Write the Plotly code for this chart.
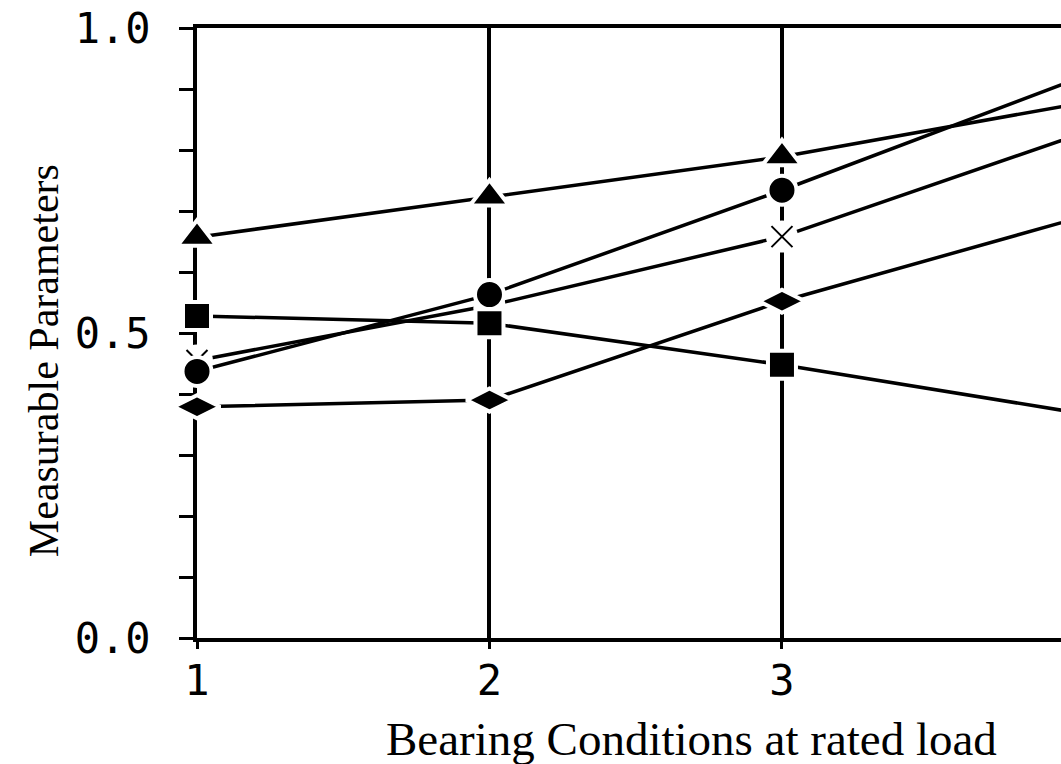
import plotly.graph_objects as go

# Bearing conditions (x) and the five measured parameters (y, normalised)
conditions = [1, 2, 3, 4]
triangle_series = [0.657, 0.723, 0.789, 0.875]
square_series = [0.528, 0.516, 0.448, 0.370]
circle_series = [0.437, 0.563, 0.734, 0.915]
cross_series = [0.455, 0.545, 0.658, 0.823]
diamond_series = [0.379, 0.390, 0.552, 0.687]

y_tick_vals = [0.0, 0.5, 1.0]
y_tick_text = ["0.0", "0.5", "1.0"]
x_tick_vals = [1, 2, 3, 4]
x_tick_text = ["1", "2", "3", "4"]

x_title = "Bearing Conditions at rated load"
y_title = "Measurable Parameters"

tick_font = dict(family="DejaVu Sans Mono", size=42, color="black")
title_font = "Liberation Serif"

series = [
    (triangle_series, "triangle-up", 34),
    (square_series, "square", 28),
    (circle_series, "circle", 29),
    (diamond_series, "diamond-wide", 33),
]

fig = go.Figure()

# connecting lines first, so every marker sits on top of all lines
for ys in [triangle_series, square_series, circle_series, cross_series, diamond_series]:
    fig.add_trace(go.Scatter(
        x=conditions, y=ys, mode="lines",
        line=dict(color="black", width=3.5),
        hoverinfo="skip", showlegend=False,
    ))

# thin cross markers: white backing disc, then the cross itself
fig.add_trace(go.Scatter(
    x=conditions, y=cross_series, mode="markers", cliponaxis=False,
    marker=dict(symbol="circle", size=32, color="white", line=dict(width=0)),
    hoverinfo="skip", showlegend=False,
))
fig.add_trace(go.Scatter(
    x=conditions, y=cross_series, mode="markers", cliponaxis=False,
    marker=dict(symbol="x-thin", size=21, color="black",
                line=dict(color="black", width=2)),
    showlegend=False,
))

# filled markers with a white halo that breaks the lines around them
for ys, sym, size in series:
    fig.add_trace(go.Scatter(
        x=conditions, y=ys, mode="markers", cliponaxis=False,
        marker=dict(symbol=sym, size=size, color="black",
                    line=dict(color="white", width=4)),
        showlegend=False,
    ))

fig.update_layout(
    width=1061, height=764,
    margin=dict(l=197, r=0, t=28, b=126),
    paper_bgcolor="white", plot_bgcolor="white",
    showlegend=False,
    xaxis=dict(
        range=[1, 3.954],
        tickvals=x_tick_vals, ticktext=x_tick_text,
        ticks="outside", ticklen=7, tickwidth=3, tickcolor="black",
        ticklabelstandoff=-4,
        tickfont=tick_font,
        showline=True, linecolor="black", linewidth=4, mirror=True,
        showgrid=True, gridcolor="black", gridwidth=3.5,
        zeroline=False, layer="below traces",
    ),
    yaxis=dict(
        range=[0, 1],
        tickvals=y_tick_vals, ticktext=y_tick_text,
        ticks="outside", ticklen=14, tickwidth=3, tickcolor="black",
        ticklabelstandoff=20,
        tickfont=tick_font,
        minor=dict(dtick=0.1, ticks="outside", ticklen=14, tickwidth=3,
                   tickcolor="black", showgrid=False),
        showline=True, linecolor="black", linewidth=4, mirror=False,
        showgrid=False, zeroline=False, layer="below traces",
    ),
    annotations=[
        dict(text=x_title, xref="paper", yref="paper", x=0.572, y=-0.166,
             xanchor="center", yanchor="middle", showarrow=False,
             font=dict(family=title_font, size=47, color="black")),
        dict(text=y_title, xref="paper", yref="paper", x=-0.177, y=0.454,
             xanchor="center", yanchor="middle", showarrow=False, textangle=-90,
             font=dict(family=title_font, size=42, color="black")),
    ],
)

fig.write_html("out.html")
